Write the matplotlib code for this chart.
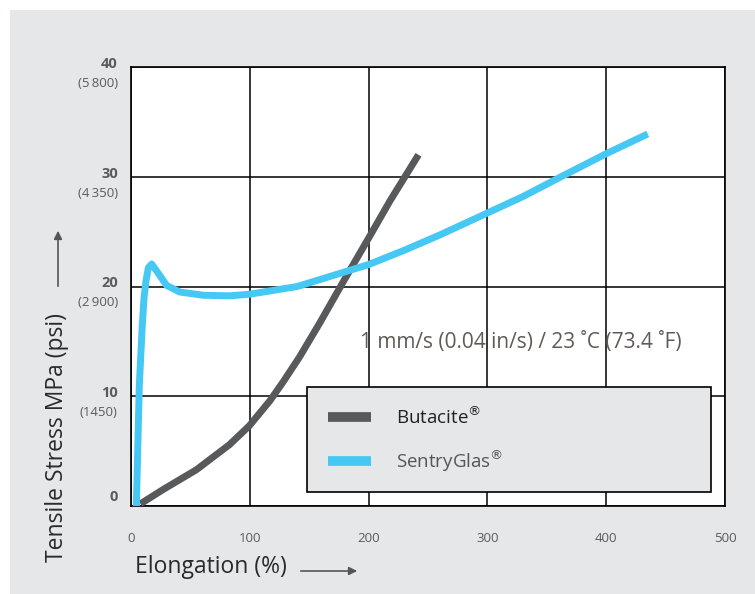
import matplotlib

matplotlib.use("Agg")
import matplotlib.pyplot as plt
from matplotlib.lines import Line2D
from matplotlib.patches import FancyArrowPatch, Rectangle

plt.rcParams["font.family"] = ["Open Sans", "DejaVu Sans"]

# data
but_x = [8, 27, 55, 83, 99.5, 117, 128, 142, 159, 179, 200.5, 218, 242]
but_y = [0.2, 1.5, 3.3, 5.6, 7.3, 9.6, 11.3, 13.6, 16.7, 20.5, 24.5, 27.8, 32.0]
sg_x = [4.5, 7, 9.5, 11, 12.6, 14.6, 17.4, 23, 30, 41, 61, 83, 100, 140, 182, 200,
        230, 260, 300, 330, 362, 400, 435]
sg_y = [0.0, 11.0, 16.5, 19.0, 20.5, 21.7, 22.05, 21.2, 20.1, 19.5, 19.2, 19.15, 19.3,
        20.0, 21.4, 22.0, 23.3, 24.7, 26.7, 28.2, 30.0, 32.1, 33.9]

mpa_ticks = [0, 10, 20, 30, 40]
psi_labels = ["", "(1450)", "(2\u2009900)", "(4\u2009350)", "(5\u2009800)"]
x_ticks = [0, 100, 200, 300, 400, 500]

BG = "#e6e7e8"
GRAY = "#58595b"
BLUE = "#45c8f3"
TXT = "#5b5b5b"

fig = plt.figure(figsize=(7.55, 5.94), dpi=100)
fig.patches.append(Rectangle((10 / 755, 0), 1, 584 / 594, transform=fig.transFigure,
                             facecolor=BG, edgecolor="none", zorder=-10))

ax = fig.add_axes([131 / 755, 88 / 594, 594 / 755, 439 / 594])
ax.set_facecolor("white")
ax.set_xlim(0, 500)
ax.set_ylim(0, 40)

ax.plot(but_x, but_y, color=GRAY, lw=5, solid_capstyle="butt", solid_joinstyle="round", zorder=3)
ax.plot(sg_x, sg_y, color=BLUE, lw=5, solid_capstyle="butt", solid_joinstyle="round", zorder=3)

ax.set_xticks(x_ticks)
ax.set_xticklabels([str(v) for v in x_ticks], fontsize=9.5, color=TXT)
ax.set_yticks(mpa_ticks)
ax.set_yticklabels([])
ax.tick_params(length=0)
ax.tick_params(axis="x", pad=19)
ax.grid(True, color="black", lw=1.1)
ax.set_axisbelow(True)
for s in ax.spines.values():
    s.set_color("black")
    s.set_linewidth(1.2)

# two-line y labels: MPa on top, psi below
for v, p in zip(mpa_ticks, psi_labels):
    dy = 2.2 if p else 6.5
    ax.annotate(str(v), xy=(0, v), xycoords=("axes fraction", "data"),
                xytext=(-9.5, dy), textcoords="offset points",
                ha="right", va="center", fontsize=10.5, fontweight="bold", color=TXT)
    if p:
        ax.annotate(p, xy=(0, v), xycoords=("axes fraction", "data"),
                    xytext=(-9.5, dy - 14), textcoords="offset points",
                    ha="right", va="center", fontsize=9.5, color=TXT)

ax.text(193, 14.9, "1 mm/s (0.04 in/s) / 23 \u02daC (73.4 \u02daF)", fontsize=15,
        color="#5e5a56", va="center", ha="left")

# legend box
ax.add_patch(Rectangle((148, 1.3), 340, 9.55, facecolor=BG, edgecolor="black",
                       lw=1.2, zorder=4))
handles = [Line2D([], [], color=GRAY, lw=7, solid_capstyle="butt"),
           Line2D([], [], color=BLUE, lw=7, solid_capstyle="butt")]
leg = ax.legend(handles, [r"Butacite$^{\circledR}$", r"SentryGlas$^{\circledR}$"],
                loc="upper left", bbox_to_anchor=(166 / 500, 9.15 / 40), frameon=False,
                fontsize=13.5, handlelength=2.3, handletextpad=1.3, labelspacing=1.05,
                borderpad=0, borderaxespad=0)
leg.set_zorder(5)
leg.get_texts()[0].set_color("#222222")
leg.get_texts()[1].set_color("#555555")

# axis titles with arrows
fig.text(57 / 755, 1 - 438 / 594, "Tensile Stress MPa (psi)", rotation=90,
         fontsize=16.5, color="#2a2a2a", ha="center", va="center")
fig.text(135 / 755, 1 - 567 / 594, "Elongation (%)", fontsize=16.5,
         color="#2a2a2a", ha="left", va="center")
arrow = dict(arrowstyle="-|>", color="#555555", lw=1.2, mutation_scale=12)
fig.add_artist(FancyArrowPatch((58 / 755, 1 - 289 / 594), (58 / 755, 1 - 228 / 594),
                               transform=fig.transFigure, **arrow))
fig.add_artist(FancyArrowPatch((298 / 755, 1 - 571 / 594), (360 / 755, 1 - 571 / 594),
                               transform=fig.transFigure, **arrow))

fig.savefig("out.png", dpi=100)
